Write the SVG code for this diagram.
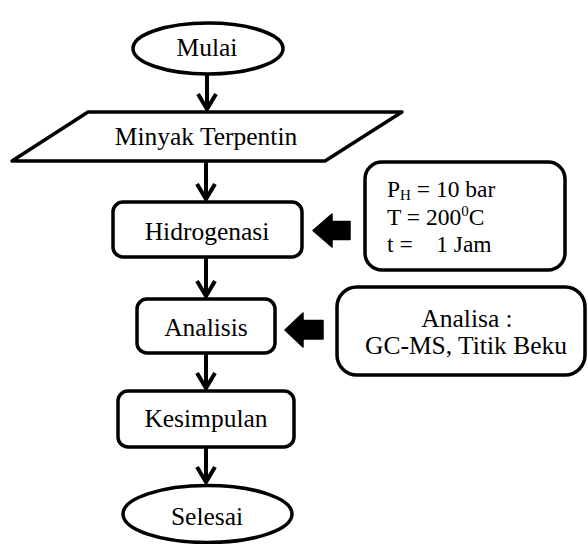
<svg xmlns="http://www.w3.org/2000/svg" width="588" height="544" viewBox="0 0 588 544">
<defs>
<style>
.shape{fill:#fff;stroke:#000;stroke-width:3.5;stroke-linejoin:round}
text{font-family:'Liberation Serif','Times New Roman',Times,serif;fill:#000}
.t{font-size:25.5px}
.tc{text-anchor:middle}
.p{font-size:23.5px}
.con{fill:none;stroke:#000;stroke-width:4}
.blk{fill:#000;stroke:#000;stroke-width:1.5;stroke-linejoin:round}
</style>
</defs>
<rect width="588" height="544" fill="#fff"/>
<g id="connectors">
<line class="con" x1="207" y1="74" x2="207" y2="109"/>
<line class="con" x1="206" y1="162" x2="206" y2="199"/>
<line class="con" x1="206" y1="257" x2="206" y2="296"/>
<line class="con" x1="206" y1="353" x2="206" y2="388"/>
<line class="con" x1="206" y1="447" x2="206" y2="482"/>
<polyline class="con" points="198,94 207,109 216,94"/>
<polyline class="con" points="197,184 206,199 215,184"/>
<polyline class="con" points="197,281 206,296 215,281"/>
<polyline class="con" points="197,373 206,388 215,373"/>
<polyline class="con" points="197,467 206,482 215,467"/>
<polygon class="blk" points="313,230.5 332,214 332,221.5 350,221.5 350,239.5 332,239.5 332,247"/>
<polygon class="blk" points="285,330 303,313 303,320.5 323,320.5 323,339 303,339 303,347"/>
</g>
<g id="mulai">
<ellipse class="shape" cx="208" cy="48.5" rx="75" ry="25.5"/>
<text class="t tc" x="207" y="56" font-family="Liberation Serif, serif">Mulai</text>
</g>
<g id="minyak">
<polygon class="shape" points="88,112 402,112 325,161 12,161"/>
<text class="t tc" x="206" y="145" font-family="Liberation Serif, serif">Minyak Terpentin</text>
</g>
<g id="hidrogenasi">
<rect class="shape" x="113" y="202" width="189" height="55" rx="10"/>
<text class="t tc" x="207" y="240" font-family="Liberation Serif, serif">Hidrogenasi</text>
</g>
<g id="kondisi">
<rect class="shape" x="365" y="162" width="200" height="108" rx="17"/>
<text class="p" x="387" y="197" font-family="Liberation Serif, serif">P<tspan font-size="15" dy="3">H</tspan><tspan dy="-3"> = 10 bar</tspan></text>
<text class="p" x="387" y="225" font-family="Liberation Serif, serif">T = 200<tspan font-size="15" dy="-9">0</tspan><tspan dy="9">C</tspan></text>
<text class="p" x="387" y="252" font-family="Liberation Serif, serif" xml:space="preserve">t =    1 Jam</text>
</g>
<g id="analisis">
<rect class="shape" x="137" y="299" width="138" height="54" rx="10"/>
<text class="t tc" x="206" y="336" font-family="Liberation Serif, serif">Analisis</text>
</g>
<g id="analisa">
<rect class="shape" x="337" y="287" width="248" height="88" rx="20"/>
<text class="t tc" x="467" y="327" font-family="Liberation Serif, serif">Analisa :</text>
<text class="t tc" x="466" y="354" font-family="Liberation Serif, serif">GC-MS, Titik Beku</text>
</g>
<g id="kesimpulan">
<rect class="shape" x="118" y="391" width="176" height="56" rx="10"/>
<text class="t tc" x="206" y="427" font-family="Liberation Serif, serif">Kesimpulan</text>
</g>
<g id="selesai">
<ellipse class="shape" cx="207.5" cy="514" rx="84.5" ry="28.5"/>
<text class="t tc" x="207" y="525" font-family="Liberation Serif, serif">Selesai</text>
</g>
</svg>
